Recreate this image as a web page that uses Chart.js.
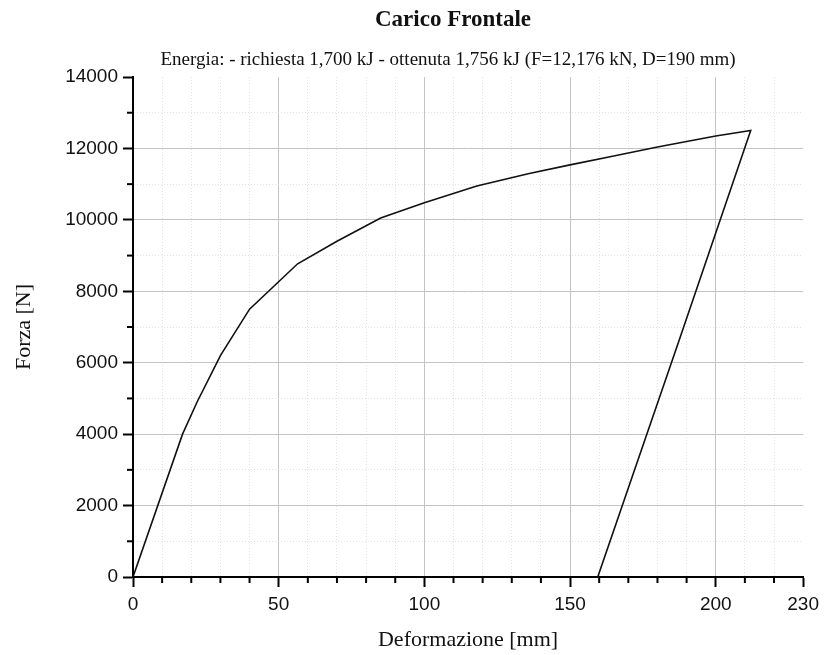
<!DOCTYPE html>
<html>
<head>
<meta charset="utf-8">
<script src="https://cdn.jsdelivr.net/npm/chart.js@4.4.1/dist/chart.umd.min.js"></script>
<style>
    html, body { margin: 0; padding: 0; background: #fff; }
    #wrap { width: 825px; height: 655px; position: relative; }
</style>
</head>
<body>
<div id="wrap"><canvas id="forceChart"></canvas></div>
<script>
// Loading branch (mm, N)
const loadX = [0, 17, 22, 30, 40, 56.5, 70, 85, 100, 118, 136, 150, 165, 180, 200, 212];
const loadY = [0, 4000, 4900, 6200, 7500, 8770, 9400, 10050, 10480, 10950, 11300, 11540, 11790, 12040, 12350, 12500];
// Unloading branch
const unloadX = [212, 187.5, 159.5];
const unloadY = [12500, 6640, 0];

// Axis ticks
const xMajorTicks = [0, 50, 100, 150, 200, 230];
const yMajorTicks = [0, 2000, 4000, 6000, 8000, 10000, 12000, 14000];

const chartTitle = 'Carico Frontale';
const chartSubtitle = 'Energia: - richiesta 1,700 kJ - ottenuta 1,756 kJ (F=12,176 kN, D=190 mm)';

(function() {
    const serif = "'Liberation Serif', 'Times New Roman', serif";
    const sans = "'Liberation Sans', Arial, sans-serif";

    const points = [];
    loadX.forEach((x, i) => points.push({ x: x, y: loadY[i] }));
    unloadX.forEach((x, i) => points.push({ x: x, y: unloadY[i] }));

    function isMajor(scaleId, v) {
        return scaleId === 'x' ? xMajorTicks.includes(v) : yMajorTicks.includes(v);
    }

    function gridColor(ctx) {
        if (!ctx.tick) return 'rgba(0,0,0,0)';
        const v = ctx.tick.value;
        const id = ctx.scale.id;
        if ((id === 'x' && v === 230) || (id === 'y' && v === 14000)) return 'rgba(0,0,0,0)';
        return isMajor(id, v) ? '#c4c4c4' : '#e2e2e2';
    }

    function gridDash(ctx) {
        if (!ctx.tick) return [];
        return isMajor(ctx.scale.id, ctx.tick.value) ? [] : [1, 2];
    }

    function tickColor(ctx) {
        if (!ctx.tick) return '#000';
        return isMajor(ctx.scale.id, ctx.tick.value) ? '#000' : 'rgba(0,0,0,0)';
    }

    // short minor ticks + titles
    const extras = {
        id: 'extras',
        afterDraw(chart) {
            const c = chart.ctx;
            const xs = chart.scales.x;
            const ys = chart.scales.y;
            c.save();
            c.strokeStyle = '#000';
            c.lineWidth = 2;
            xs.ticks.forEach(t => {
                if (isMajor('x', t.value)) return;
                const px = xs.getPixelForValue(t.value);
                c.beginPath();
                c.moveTo(px, ys.bottom);
                c.lineTo(px, ys.bottom + 6);
                c.stroke();
            });
            ys.ticks.forEach(t => {
                if (isMajor('y', t.value)) return;
                const py = ys.getPixelForValue(t.value);
                c.beginPath();
                c.moveTo(xs.left, py);
                c.lineTo(xs.left - 6, py);
                c.stroke();
            });

            c.fillStyle = '#111';
            c.textAlign = 'center';
            c.textBaseline = 'alphabetic';
            c.font = 'bold 23px ' + serif;
            c.fillText(chartTitle, 453, 26);
            c.font = '19px ' + serif;
            c.fillText(chartSubtitle, 448, 65);
            c.restore();
        }
    };

    new Chart(document.getElementById('forceChart'), {
        type: 'scatter',
        data: {
            datasets: [{
                data: points,
                showLine: true,
                borderColor: '#111',
                borderWidth: 1.6,
                pointRadius: 0,
                tension: 0,
                fill: false
            }]
        },
        options: {
            responsive: true,
            maintainAspectRatio: false,
            animation: false,
            layout: { padding: { top: 77, right: 21, left: 0, bottom: 0 } },
            plugins: {
                legend: { display: false },
                tooltip: { enabled: false }
            },
            scales: {
                x: {
                    type: 'linear',
                    min: 0,
                    max: 230,
                    afterFit: s => { s.height = 78; },
                    ticks: {
                        stepSize: 10,
                        autoSkip: false,
                        maxRotation: 0,
                        padding: 6,
                        color: '#111',
                        font: { family: sans, size: 19 },
                        callback: v => xMajorTicks.includes(v) ? String(v) : ''
                    },
                    grid: {
                        color: gridColor,
                        lineWidth: 1,
                        tickColor: tickColor,
                        tickLength: 10,
                        tickWidth: 2
                    },
                    border: { color: '#000', width: 2, dash: gridDash },
                    title: {
                        display: true,
                        text: 'Deformazione [mm]',
                        color: '#111',
                        font: { family: serif, size: 22 },
                        padding: { top: 0, bottom: 2 }
                    }
                },
                y: {
                    min: 0,
                    max: 14000,
                    afterFit: s => { s.width = 133; },
                    ticks: {
                        stepSize: 1000,
                        autoSkip: false,
                        padding: 5,
                        color: '#111',
                        font: { family: sans, size: 19 },
                        callback: v => yMajorTicks.includes(v) ? String(v) : ''
                    },
                    grid: {
                        color: gridColor,
                        lineWidth: 1,
                        tickColor: tickColor,
                        tickLength: 10,
                        tickWidth: 2
                    },
                    border: { color: '#000', width: 2, dash: gridDash },
                    title: {
                        display: true,
                        text: 'Forza [N]',
                        color: '#111',
                        font: { family: serif, size: 22 },
                        padding: { top: 11, bottom: 0 }
                    }
                }
            }
        },
        plugins: [extras]
    });
})();
</script>
</body>
</html>
